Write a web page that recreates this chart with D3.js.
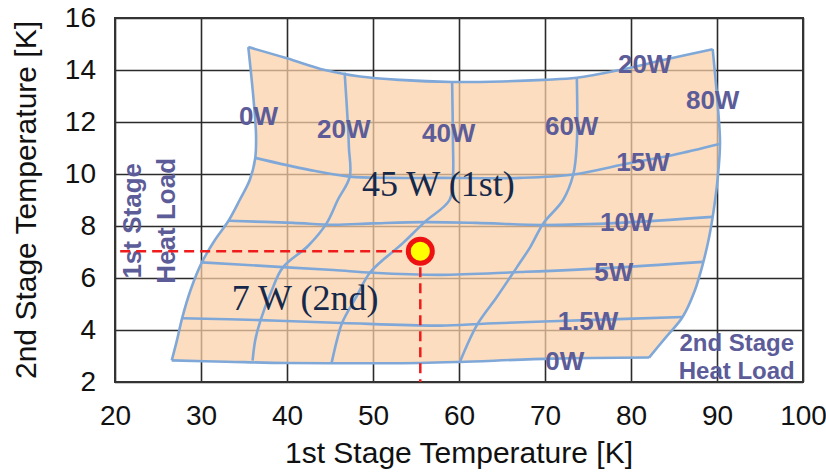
<!DOCTYPE html>
<html lang="en">
<head>
<meta charset="UTF-8">
<title>Cryocooler Capacity Map</title>
<script src="https://d3js.org/d3.v7.min.js"></script>
<style>
  body { margin: 0; background: white; }
  svg { display: block; font-family: "Liberation Sans", Arial, sans-serif; }
  .tick text { font-size: 28px; fill: #111; }
  .tick line { stroke: #2b2b2b; stroke-width: 1.6; }
  .axis-title { font-size: 30px; fill: #111; }
  .load-label { font-size: 26px; font-weight: bold; fill: #5c5c98; }
  .note { font-family: "Liberation Serif", "Times New Roman", serif; font-size: 36px; fill: #16294a; }
</style>
</head>
<body>
<svg width="826" height="474"></svg>
<script>
// axis ticks
const xTicks = [20, 30, 40, 50, 60, 70, 80, 90, 100];
const yTicks = [2, 4, 6, 8, 10, 12, 14, 16];

// constant 1st stage load curves [1st stage K, 2nd stage K], bottom -> top
const first0W  = [[26.6,2.83],[27.2,3.6],[27.8,4.45],[28.8,5.55],[30.1,6.6],[31.6,7.45],[33.2,8.2],[34.5,9.0],[35.7,9.8],[36.3,10.6],[36.4,11.5],[36.1,12.9],[35.5,14.88]];
const first20W = [[36.0,2.82],[36.3,3.6],[36.9,4.35],[38.2,5.5],[39.5,6.4],[42.5,7.25],[44.6,8.1],[45.9,9.0],[47.3,9.9],[47.2,11.0],[47.1,11.8],[46.7,13.9]];
const first40W = [[45.2,2.75],[45.8,3.6],[46.4,4.27],[48.1,5.3],[49.7,6.23],[53.5,7.35],[56.0,8.15],[58.9,9.0],[59.3,9.9],[59.3,11.2],[59.2,13.55]];
const first60W = [[60.1,2.77],[62.1,4.2],[64.4,5.27],[66.7,6.4],[68.3,7.2],[69.8,8.1],[72.1,9.0],[73.3,10.0],[73.7,11.2],[73.7,13.7]];
const first80W = [[82.1,2.94],[84.0,3.7],[86.0,4.5],[87.4,5.5],[88.4,6.6],[89.1,7.6],[89.5,8.35],[90.1,9.9],[90.35,11.2],[90.1,12.6],[89.5,14.8]];

// constant 2nd stage load curves, left -> right
const second0W   = [[26.6,2.83],[33,2.78],[40.0,2.73],[50,2.72],[55.5,2.73],[60.1,2.77],[70.9,2.9],[82.1,2.94]];
const second1_5W = [[27.8,4.45],[36.9,4.38],[46.4,4.27],[57.8,4.17],[63.3,4.25],[74.9,4.38],[86.0,4.5]];
const second5W   = [[30.1,6.6],[39.5,6.42],[45.4,6.31],[50.0,6.2],[57.8,6.12],[67.1,6.23],[77.2,6.38],[88.4,6.62]];
const second10W  = [[33.2,8.2],[40.7,8.12],[45.4,8.05],[50,8.1],[56,8.15],[62,8.12],[69.8,8.04],[78.7,8.12],[89.5,8.35]];
const second15W  = [[36.3,10.62],[42.7,10.15],[47.3,9.9],[52,9.85],[57.8,9.85],[67.1,9.85],[73.3,9.98],[79.9,10.42],[84.9,10.73],[90.3,11.15]];
const second20W  = [[35.5,14.88],[40,14.45],[44.4,14.0],[48.5,13.75],[53.1,13.62],[59.2,13.54],[65,13.56],[69.8,13.62],[73.7,13.7],[78.7,14.0],[84,14.4],[89.5,14.8]];

// curve labels: text, x, y (centre)
const loadLabels = [
  ["0W", 36.7, 12.23], ["20W", 46.6, 11.73], ["40W", 58.8, 11.58], ["60W", 73.1, 11.85], ["80W", 89.5, 12.85],
  ["20W", 81.6, 14.23], ["15W", 81.4, 10.46], ["10W", 79.5, 8.15], ["5W", 78.0, 6.23], ["1.5W", 75.0, 4.35], ["0W", 72.3, 2.81]
];

// operating point
const opPoint = [55.5, 7.03];
const notes = [["45 W (1st)", 57.6, 9.15], ["7 W (2nd)", 42.1, 4.77]];

const svg = d3.select("svg");
const plot = { left: 115, right: 803, top: 18, bottom: 382 };

const x = d3.scaleLinear().domain([20, 100]).range([plot.left, plot.right]);
const y = d3.scaleLinear().domain([2, 16]).range([plot.bottom, plot.top]);

// grid + tick labels
svg.append("g")
    .attr("transform", `translate(0,${plot.bottom})`)
    .call(d3.axisBottom(x).tickValues(xTicks).tickSize(-(plot.bottom - plot.top)).tickPadding(23))
    .call(g => g.select(".domain").remove());

svg.append("g")
    .attr("transform", `translate(${plot.left},0)`)
    .call(d3.axisLeft(y).tickValues(yTicks).tickSize(-(plot.right - plot.left)).tickPadding(19))
    .call(g => g.select(".domain").remove());

svg.selectAll(".tick text").attr("font-family", null).attr("font-size", null);

const line = d3.line()
    .x(d => x(d[0]))
    .y(d => y(d[1]))
    .curve(d3.curveCatmullRom.alpha(0.5));

// filled operating region
const region = line(second0W)
    + line(first80W).replace(/^M/, "L")
    + line(second20W.slice().reverse()).replace(/^M/, "L")
    + line(first0W.slice().reverse()).replace(/^M/, "L") + "Z";

svg.append("path")
    .attr("d", region)
    .attr("fill", "rgb(251,208,168)")
    .attr("fill-opacity", 0.72);

svg.append("rect")
    .attr("x", plot.left).attr("y", plot.top)
    .attr("width", plot.right - plot.left).attr("height", plot.bottom - plot.top)
    .attr("fill", "none").attr("stroke", "#333").attr("stroke-width", 2);

const curves = [first0W, first20W, first40W, first60W, first80W,
                second0W, second1_5W, second5W, second10W, second15W, second20W];

svg.append("g").selectAll("path")
    .data(curves)
    .join("path")
    .attr("d", line)
    .attr("fill", "none")
    .attr("stroke", "#7fa8d8")
    .attr("stroke-width", 2.6)
    .attr("stroke-linejoin", "round");

svg.append("g").selectAll("text")
    .data(loadLabels)
    .join("text")
    .attr("class", "load-label")
    .attr("x", d => x(d[1]))
    .attr("y", d => y(d[2]))
    .attr("dy", "0.36em")
    .attr("text-anchor", "middle")
    .text(d => d[0]);

// 1st stage heat load (rotated)
const t1 = svg.append("text")
    .attr("class", "load-label")
    .attr("transform", `translate(${x(20) + 26},${y(8.2)}) rotate(-90)`)
    .attr("text-anchor", "middle");
t1.append("tspan").attr("x", 0).attr("y", 0).text("1st Stage");
t1.append("tspan").attr("x", 0).attr("dy", 34).text("Heat Load");

// 2nd stage heat load
svg.append("text")
    .attr("class", "load-label")
    .style("font-size", "24px")
    .attr("x", x(92.3)).attr("y", 351)
    .attr("text-anchor", "middle")
    .text("2nd Stage");
svg.append("text")
    .attr("class", "load-label")
    .style("font-size", "24px")
    .attr("x", x(92.3)).attr("y", 378.5)
    .attr("text-anchor", "middle")
    .text("Heat Load");

svg.append("g").selectAll("text")
    .data(notes)
    .join("text")
    .attr("class", "note")
    .attr("x", d => x(d[1]))
    .attr("y", d => y(d[2]))
    .attr("text-anchor", "middle")
    .text(d => d[0]);

// dashed guides to operating point
const dash = svg.append("g")
    .attr("stroke", "#ee1c1c")
    .attr("stroke-width", 2.5)
    .attr("stroke-dasharray", "10,6");
dash.append("line")
    .attr("x1", x(20.6)).attr("x2", x(opPoint[0]))
    .attr("y1", y(opPoint[1])).attr("y2", y(opPoint[1]));
dash.append("line")
    .attr("x1", x(opPoint[0])).attr("x2", x(opPoint[0]))
    .attr("y1", y(opPoint[1])).attr("y2", y(2));

svg.append("circle")
    .attr("cx", x(opPoint[0]))
    .attr("cy", y(opPoint[1]))
    .attr("r", 12)
    .attr("fill", "#ffff00")
    .attr("stroke", "#ee1111")
    .attr("stroke-width", 5);

svg.append("text")
    .attr("class", "axis-title")
    .attr("x", (plot.left + plot.right) / 2)
    .attr("y", 463)
    .attr("text-anchor", "middle")
    .text("1st Stage Temperature [K]");

svg.append("text")
    .attr("class", "axis-title")
    .attr("transform", `translate(36,${(plot.top + plot.bottom) / 2}) rotate(-90)`)
    .attr("text-anchor", "middle")
    .text("2nd Stage Temperature [K]");
</script>
</body>
</html>
